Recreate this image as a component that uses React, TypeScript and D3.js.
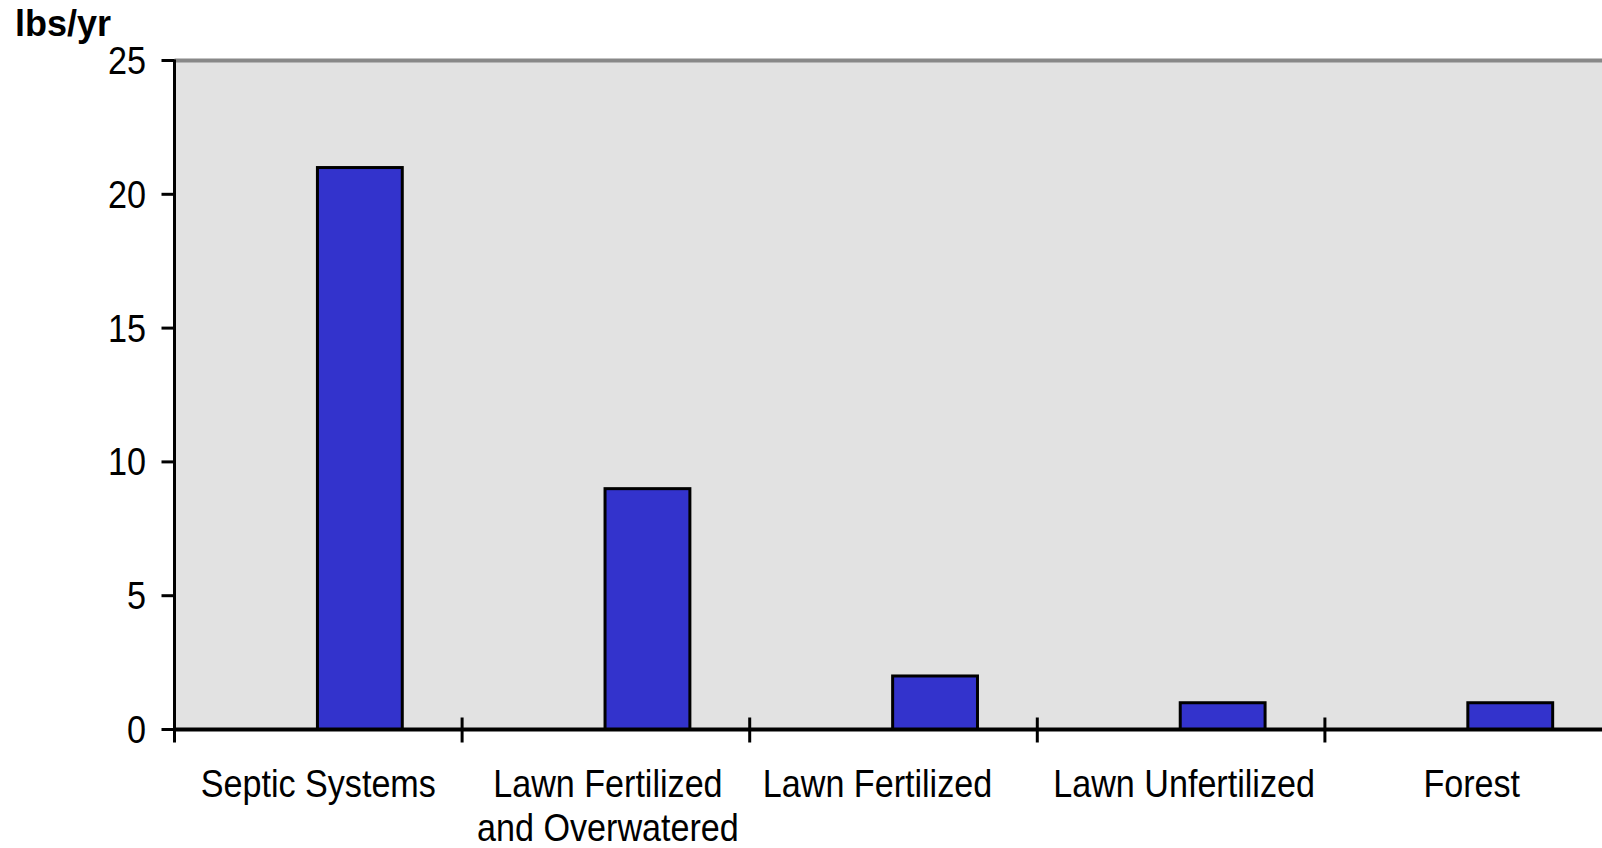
import React from "react";
import * as d3 from "d3";

const categories = [
  ["Septic Systems"],
  ["Lawn Fertilized", "and Overwatered"],
  ["Lawn Fertilized"],
  ["Lawn Unfertilized"],
  ["Forest"],
];
const values = [21, 9, 2, 1, 1];
const yTicks = [0, 5, 10, 15, 20, 25];
const yLabel = "lbs/yr";

const W = 1602;
const H = 848;

export default function App() {
  const keys = categories.map((_, i) => String(i));
  const x = d3.scaleBand<string>().domain(keys).range([174.5, 1612.5]).padding(0);
  const y = d3.scaleLinear().domain([0, 25]).range([729.5, 60.5]);
  const bw = x.bandwidth();
  const font = "'Liberation Sans', Arial, sans-serif";
  const left = 174.5;
  const right = 1612.5;
  const labelShift = [0, 2, -16, 3, 3];

  return (
    <svg
      width={W}
      height={H}
      style={{ position: "absolute", left: 0, top: 0, background: "#fff" }}
      fontFamily={font}
    >
      <rect x={left} y={y(25)} width={right - left} height={y(0) - y(25)} fill="#e2e2e2" />
      <line x1={left} x2={right} y1={y(25)} y2={y(25)} stroke="#888" strokeWidth={4} />
      {values.map((v, i) => (
        <rect
          key={i}
          x={(x(String(i)) as number) + bw * 0.497}
          y={y(v)}
          width={bw * 0.295}
          height={y(0) - y(v)}
          fill="#3333cc"
          stroke="#000"
          strokeWidth={3}
        />
      ))}
      {/* y axis */}
      <line x1={left} x2={left} y1={y(25) - 1} y2={y(0) + 13} stroke="#000" strokeWidth={3} />
      {yTicks.map((t) => (
        <g key={t}>
          <line x1={161.5} x2={left} y1={y(t)} y2={y(t)} stroke="#000" strokeWidth={3} />
          <text
            transform={`translate(146,${y(t) + 13.5}) scale(0.9,1)`}
            textAnchor="end"
            fontSize={38}
            fill="#000"
          >
            {t}
          </text>
        </g>
      ))}
      {/* x axis */}
      <line x1={left} x2={right} y1={y(0)} y2={y(0)} stroke="#000" strokeWidth={4} />
      {keys.slice(1).map((k) => (
        <line
          key={k}
          x1={x(k) as number}
          x2={x(k) as number}
          y1={y(0) - 12}
          y2={y(0) + 13}
          stroke="#000"
          strokeWidth={3}
        />
      ))}
      {categories.map((lines, i) => (
        <text
          key={i}
          transform={`translate(${(x(String(i)) as number) + bw / 2 + labelShift[i]},797) scale(0.875,1)`}
          textAnchor="middle"
          fontSize={39}
          fill="#000"
        >
          {lines.map((l, j) => (
            <tspan key={j} x={0} dy={j === 0 ? 0 : 44}>
              {l}
            </tspan>
          ))}
        </text>
      ))}
      <text x={15} y={36} fontSize={36} fontWeight="bold" fill="#000">
        {yLabel}
      </text>
    </svg>
  );
}
